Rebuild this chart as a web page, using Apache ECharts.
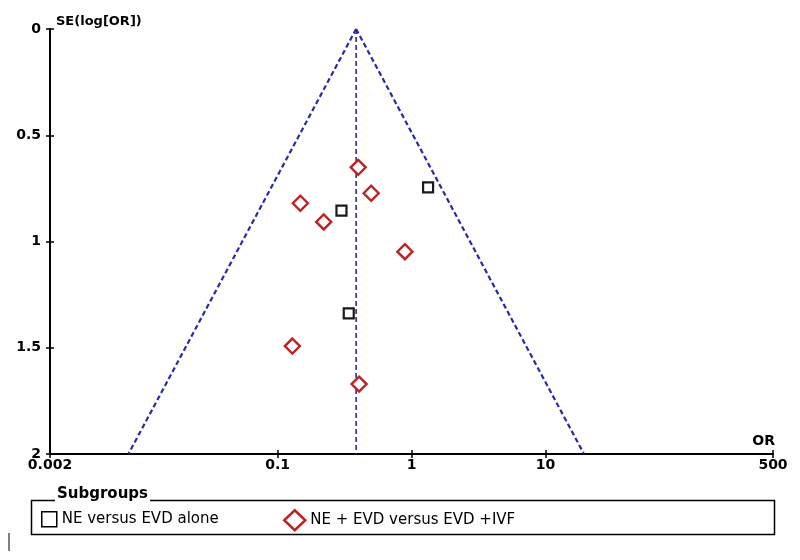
<!DOCTYPE html>
<html>
<head>
<meta charset="utf-8">
<script src="https://cdn.jsdelivr.net/npm/echarts@6/dist/echarts.min.js"></script>
<style>html,body{margin:0;padding:0;background:#fff}#c{width:800px;height:560px}</style>
</head>
<body>
<div id="c"></div>
<script>
// ---- data ----
const seriesNames = ['NE versus EVD alone', 'NE + EVD versus EVD +IVF'];
const aloneOR = [1.33, 0.30, 0.34];
const aloneSE = [0.745, 0.855, 1.338];
const ivfOR = [0.40, 0.50, 0.148, 0.221, 0.893, 0.129, 0.406];
const ivfSE = [0.651, 0.773, 0.820, 0.908, 1.048, 1.492, 1.671];
const pooledOR = 0.386;          // vertical line (summary estimate)
const funnelLowOR = 0.0077;      // left funnel edge at SE = 2
const funnelHighOR = 19.4;       // right funnel edge at SE = 2
const funnelTopSE = 0;
const funnelBottomSE = 2;
const xTickValues = [0.002, 0.1, 1, 10, 500];
const xTickLabels = ['0.002', '0.1', '1', '10', '500'];
const yTickLabels = ['0', '0.5', '1', '1.5', '2'];

const font = 'DejaVu Sans';
const blue = '#2a2aa6';
const red = '#bd2322';

function xLabel(v) {
  for (let i = 0; i < xTickValues.length; i++) {
    if (Math.abs(Math.log10(v) - Math.log10(xTickValues[i])) < 1e-6) return xTickLabels[i];
  }
  return '';
}

const chart = echarts.init(document.getElementById('c'), null, {renderer: 'canvas'});
const baseX = {
  type: 'log', logBase: 10,
  min: xTickValues[0], max: xTickValues[xTickValues.length - 1],
  position: 'bottom', splitLine: {show: false}
};
const baseY = {
  type: 'value', inverse: true, min: 0, max: 2, interval: 0.5,
  position: 'left', splitLine: {show: false}
};
const option = {
  animation: false,
  backgroundColor: '#fff',
  textStyle: {fontFamily: font},
  grid: {left: 50, right: 27, top: 29, bottom: 106, containLabel: false},
  xAxis: [
    Object.assign({}, baseX, {
      name: 'OR',
      nameLocation: 'end',
      nameGap: 0,
      nameTextStyle: {fontFamily: font, fontSize: 14, fontWeight: 'bold', color: '#000', align: 'right', verticalAlign: 'bottom', padding: [0, -2, 6, 0]},
      axisLine: {show: true, onZero: false, lineStyle: {color: '#000', width: 2}},
      axisTick: {show: true, inside: false, length: 4, lineStyle: {color: '#000', width: 1.5}, customValues: xTickValues},
      axisLabel: {
        show: true, fontFamily: font, fontSize: 14, fontWeight: 'bold', color: '#000', margin: 4,
        customValues: xTickValues, showMinLabel: true, showMaxLabel: true,
        formatter: xLabel
      }
    }),
    Object.assign({}, baseX, {
      axisLine: {show: false, onZero: false},
      axisTick: {show: true, inside: true, length: 4, lineStyle: {color: '#000', width: 1.5}, customValues: xTickValues},
      axisLabel: {show: false}
    })
  ],
  yAxis: [
    Object.assign({}, baseY, {
      name: 'SE(log[OR])',
      nameLocation: 'start',
      nameGap: 1,
      nameTextStyle: {fontFamily: font, fontSize: 13, fontWeight: 'bold', color: '#000', align: 'left', verticalAlign: 'bottom', padding: [0, 0, 0, 6]},
      axisLine: {show: true, lineStyle: {color: '#000', width: 2}},
      axisTick: {show: true, inside: false, length: 4, lineStyle: {color: '#000', width: 1.5}},
      axisLabel: {
        show: true, fontFamily: font, fontSize: 14, fontWeight: 'bold', color: '#000', margin: 9,
        formatter: function (v) { return yTickLabels[Math.round(v / 0.5)]; }
      }
    }),
    Object.assign({}, baseY, {
      axisLine: {show: false},
      axisTick: {show: true, inside: true, length: 4, lineStyle: {color: '#000', width: 1.5}},
      axisLabel: {show: false}
    })
  ],
  legend: [
    {
      left: 36, top: 506, itemWidth: 15, itemHeight: 15, itemGap: 7,
      textStyle: {fontFamily: font, fontSize: 15, color: '#000'},
      data: [{name: seriesNames[0], icon: 'rect', itemStyle: {color: '#fff', borderColor: '#000', borderWidth: 1.5}}],
      selectedMode: false
    },
    {
      left: 278, top: 504, itemWidth: 21, itemHeight: 20, itemGap: 4,
      textStyle: {fontFamily: font, fontSize: 15, color: '#000'},
      data: [{name: seriesNames[1], icon: 'diamond', itemStyle: {color: '#fff', borderColor: red, borderWidth: 2.5}}],
      selectedMode: false
    }
  ],
  graphic: [
    {type: 'rect', left: 29, top: 498, shape: {width: 743, height: 34}, style: {fill: 'none', stroke: '#000', lineWidth: 1.5}, silent: true},
    {type: 'text', left: 55, top: 487, style: {text: 'Subgroups', font: 'bold 15px "DejaVu Sans"', fill: '#000', backgroundColor: '#fff', padding: [0, 2, 0, 2]}, silent: true},
    {type: 'line', shape: {x1: 9, y1: 533, x2: 9, y2: 551}, style: {stroke: '#000', lineWidth: 1}, silent: true}
  ],
  series: [
    {
      name: 'funnel-left', type: 'line', symbol: 'none', silent: true,
      lineStyle: {color: blue, width: 2.2, type: [5, 3]},
      data: [[pooledOR, funnelTopSE], [funnelLowOR, funnelBottomSE]], z: 1
    },
    {
      name: 'funnel-right', type: 'line', symbol: 'none', silent: true,
      lineStyle: {color: blue, width: 2.2, type: [5, 3]},
      data: [[pooledOR, funnelTopSE], [funnelHighOR, funnelBottomSE]], z: 1
    },
    {
      name: 'pooled', type: 'line', symbol: 'none', silent: true,
      lineStyle: {color: blue, width: 1.6, type: [5, 3]},
      data: [[pooledOR, funnelTopSE], [pooledOR, funnelBottomSE]], z: 1
    },
    {
      name: seriesNames[0], type: 'scatter', symbol: 'rect', symbolSize: 10,
      itemStyle: {color: '#fff', borderColor: '#1a1a1a', borderWidth: 2.2, opacity: 1},
      data: aloneOR.map((v, i) => [v, aloneSE[i]]), z: 3
    },
    {
      name: seriesNames[1], type: 'scatter', symbol: 'diamond', symbolSize: 15,
      itemStyle: {color: '#fff', borderColor: red, borderWidth: 2.4, opacity: 1},
      data: ivfOR.map((v, i) => [v, ivfSE[i]]), z: 3
    }
  ]
};
chart.setOption(option);
</script>
</body>
</html>
